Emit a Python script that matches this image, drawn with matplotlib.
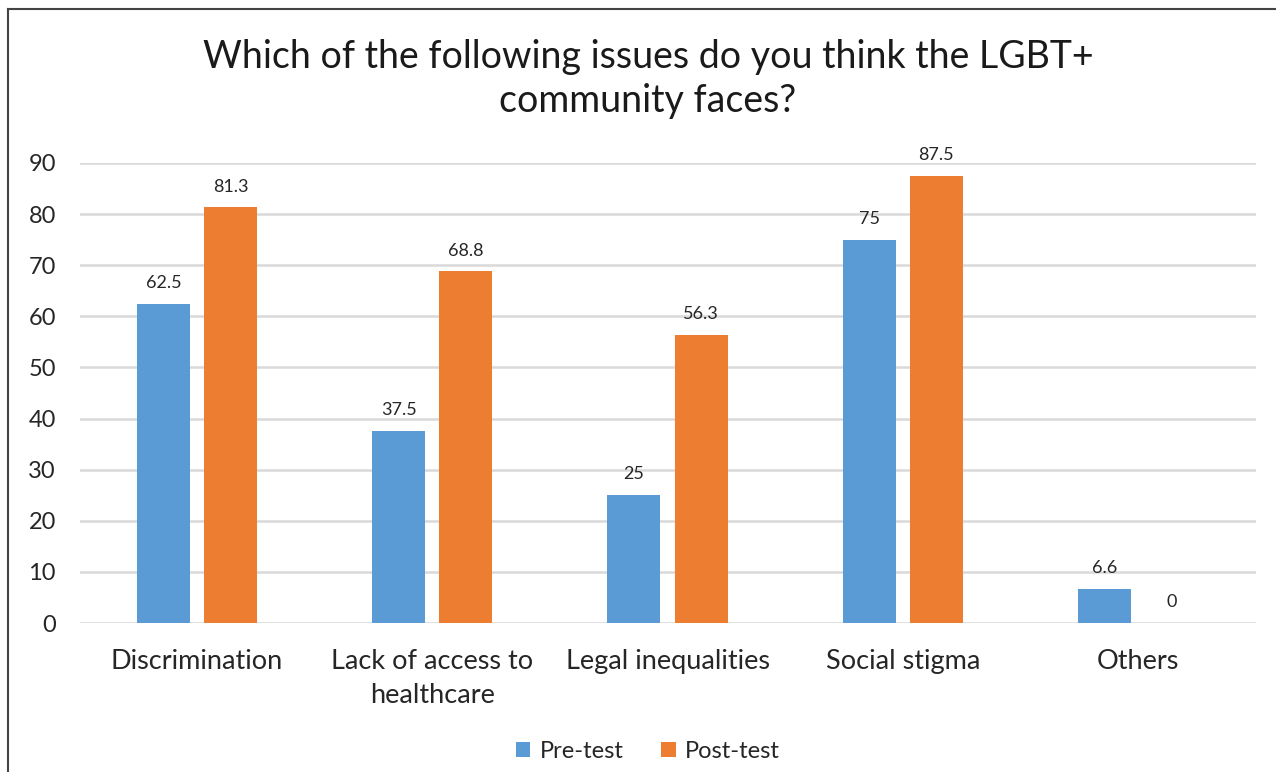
import numpy as np
import matplotlib.pyplot as plt
from matplotlib.lines import Line2D

plt.rcParams['font.family'] = ['Lato', 'DejaVu Sans']

categories = ['Discrimination', 'Lack of access to\nhealthcare', 'Legal inequalities',
              'Social stigma', 'Others']
pre_test = [62.5, 37.5, 25, 75, 6.6]
post_test = [81.3, 68.8, 56.3, 87.5, 0]
pre_labels = ['62.5', '37.5', '25', '75', '6.6']
post_labels = ['81.3', '68.8', '56.3', '87.5', '0']

blue = '#5B9BD5'
orange = '#ED7D31'

fig = plt.figure(figsize=(12.76, 7.72), dpi=100)
ax = fig.add_axes([79.5 / 1276, 1 - 623 / 772, 1176 / 1276, 460 / 772])

x = np.arange(len(categories))
w = 0.2255
off = 0.1426
b1 = ax.bar(x - off, pre_test, w, color=blue, label='Pre-test', zorder=3)
b2 = ax.bar(x + off, post_test, w, color=orange, label='Post-test', zorder=3)

for bars, labels in ((b1, pre_labels), (b2, post_labels)):
    for bar, lab in zip(bars, labels):
        ax.annotate(lab, (bar.get_x() + bar.get_width() / 2, bar.get_height()),
                    xytext=(0, 15), textcoords='offset points',
                    ha='center', va='center', fontsize=13, color='#262626')

ax.set_xlim(-0.5, 4.5)
ax.set_ylim(0, 90)
ax.set_yticks(range(0, 91, 10))
ax.yaxis.grid(True, color='#D9D9D9', linewidth=1.8, zorder=0)
ax.set_axisbelow(True)
for s in ax.spines.values():
    s.set_visible(False)
ax.tick_params(axis='y', length=0, pad=17, labelsize=17, labelcolor='#262626')
ax.tick_params(axis='x', length=0, pad=19, labelsize=19.5, labelcolor='#262626')
ax.set_xticks(x)
ax.set_xticklabels(categories, linespacing=1.45)
for lab in ax.get_xticklabels():
    lab.set_va('top')

fig.text(648 / 1276, 1 - 79 / 772, 'Which of the following issues do you think the LGBT+\ncommunity faces?',
         ha='center', va='center', fontsize=27, color='#1a1a1a', linespacing=1.3)

fig.legend(handles=[b1, b2], loc='center', bbox_to_anchor=(648 / 1276, 1 - 751 / 772),
           ncol=2, frameon=False, fontsize=17, handlelength=0.6, handleheight=0.6,
           columnspacing=1.6, handletextpad=0.4, labelcolor='#262626')

# frame on the left and top edges
fig.add_artist(Line2D([7.5 / 1276, 7.5 / 1276], [0, 1 - 9 / 772], color='#444444', linewidth=1.5,
                      transform=fig.transFigure))
fig.add_artist(Line2D([7.5 / 1276, 1], [1 - 9 / 772, 1 - 9 / 772], color='#444444', linewidth=1.5,
                      transform=fig.transFigure))

fig.savefig('out.png', dpi=100)
